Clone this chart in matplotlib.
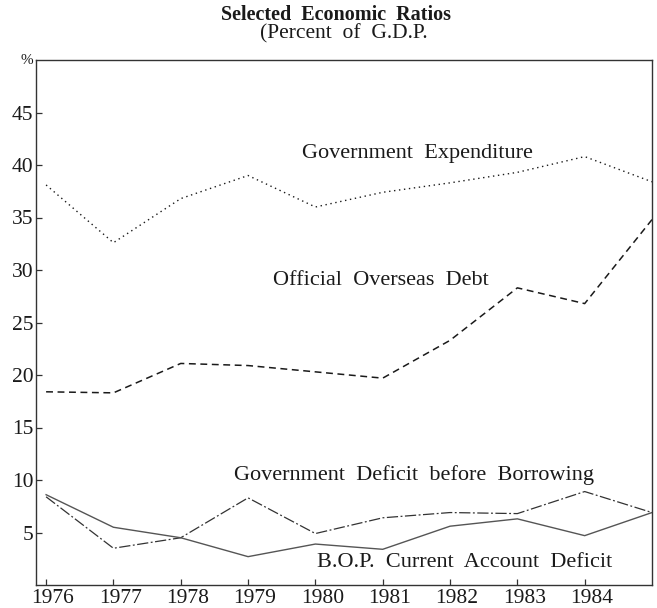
import matplotlib.pyplot as plt
import matplotlib.transforms as mtransforms

SERIF = "Liberation Serif"
INK = "#1a1a1a"
GREY = "#555555"

years = [1976, 1977, 1978, 1979, 1980, 1981, 1982, 1983, 1984, 1985]
gov_expenditure = [38.1, 32.6, 36.8, 39.0, 36.0, 37.4, 38.3, 39.3, 40.8, 38.4]
overseas_debt = [18.4, 18.3, 21.1, 20.9, 20.3, 19.7, 23.3, 28.3, 26.8, 34.8]
gov_deficit = [8.4, 3.5, 4.5, 8.3, 4.9, 6.4, 6.9, 6.8, 8.9, 6.9]
bop_deficit = [8.6, 5.5, 4.5, 2.7, 3.9, 3.4, 5.6, 6.3, 4.7, 6.9]

tick_years = [1976, 1977, 1978, 1979, 1980, 1981, 1982, 1983, 1984]
tick_pcts = [5, 10, 15, 20, 25, 30, 35, 40, 45]

W, H = 657, 608
fig = plt.figure(figsize=(W / 100, H / 100), dpi=100)
fig.patch.set_facecolor("white")
ax = fig.add_axes([36 / W, 23 / H, 616 / W, 525 / H])

ax.plot(years, gov_expenditure, color=INK, lw=1.0, linestyle=(0, (1, 2.6)))
ax.plot(years, overseas_debt, color=INK, lw=1.1, linestyle=(0, (4.5, 3)))
ax.plot(years, gov_deficit, color="#333333", lw=0.9, linestyle=(0, (9, 2, 1.5, 2)))
ax.plot(years, bop_deficit, color=GREY, lw=1.0, linestyle="-")

ax.set_xlim(1975.85, 1985)
ax.set_ylim(0, 50)

for side in ["left", "right", "top", "bottom"]:
    ax.spines[side].set_color("#333333")
    ax.spines[side].set_linewidth(1.0)

ax.set_xticks(tick_years)
ax.set_xticklabels([str(y) for y in tick_years])
ax.set_yticks(tick_pcts)
ax.set_yticklabels([str(p) for p in tick_pcts])
ax.tick_params(axis="both", direction="in", length=4, width=0.9, color="#333333",
               labelsize=15.5, labelcolor=INK)
ax.tick_params(axis="x", pad=3)
ax.tick_params(axis="y", pad=2)
for lab in ax.get_xticklabels() + ax.get_yticklabels():
    lab.set_fontfamily(SERIF)
shift = mtransforms.ScaledTranslation(5 / 72, 0, fig.dpi_scale_trans)
for lab in ax.get_xticklabels():
    lab.set_transform(lab.get_transform() + shift)

ax.text(-0.005, 1.0, "%", transform=ax.transAxes, ha="right", va="center",
        fontsize=11, family=SERIF, color=INK)

ax.text(1981.51, 41.1, "Government  Expenditure", ha="center", va="center",
        fontsize=16, family=SERIF, color=INK)
ax.text(1980.98, 29.0, "Official  Overseas  Debt", ha="center", va="center",
        fontsize=16, family=SERIF, color=INK)
ax.text(1981.47, 10.5, "Government  Deficit  before  Borrowing", ha="center", va="center",
        fontsize=16, family=SERIF, color=INK)
ax.text(1982.21, 2.1, "B.O.P.  Current  Account  Deficit", ha="center", va="center",
        fontsize=16, family=SERIF, color=INK)

fig.text(336 / W, 1 - 15 / H, "Selected  Economic  Ratios", ha="center", va="center",
         fontsize=14.5, fontweight="bold", family=SERIF, color=INK)
fig.text(344 / W, 1 - 34 / H, "(Percent  of  G.D.P.", ha="center", va="center",
         fontsize=15.5, family=SERIF, color=INK)

fig.savefig("out.png", dpi=100, facecolor="white")
plt.close(fig)
